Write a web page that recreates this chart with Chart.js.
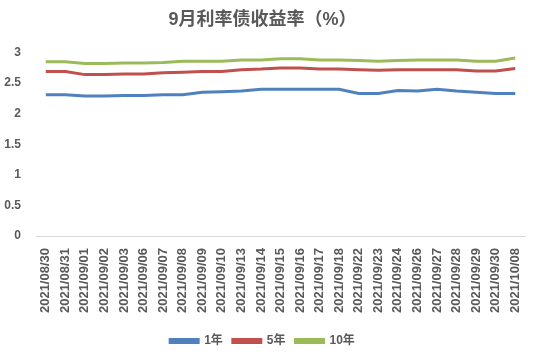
<!DOCTYPE html>
<html>
<head>
<meta charset="utf-8">
<script src="https://cdn.jsdelivr.net/npm/chart.js@4/dist/chart.umd.min.js"></script>
<style>
    html, body { margin: 0; padding: 0; background: #fff; }
    #wrap { width: 539px; height: 363px; }
</style>
</head>
<body>
<div id="wrap"><canvas id="yield-chart" width="539" height="363"></canvas></div>
<script>
// dates on the x axis
const dates = ['2021/08/30', '2021/08/31', '2021/09/01', '2021/09/02', '2021/09/03', '2021/09/06',
    '2021/09/07', '2021/09/08', '2021/09/09', '2021/09/10', '2021/09/13', '2021/09/14',
    '2021/09/15', '2021/09/16', '2021/09/17', '2021/09/18', '2021/09/22', '2021/09/23',
    '2021/09/24', '2021/09/26', '2021/09/27', '2021/09/28', '2021/09/29', '2021/09/30', '2021/10/08'];

// yields (%)
const y1 = [2.31, 2.31, 2.29, 2.29, 2.30, 2.30, 2.31, 2.31, 2.35, 2.36, 2.37, 2.40, 2.40,
    2.40, 2.40, 2.40, 2.33, 2.33, 2.38, 2.37, 2.40, 2.37, 2.35, 2.33, 2.33];
const y5 = [2.69, 2.69, 2.64, 2.64, 2.65, 2.65, 2.67, 2.68, 2.69, 2.69, 2.72, 2.73, 2.75,
    2.75, 2.73, 2.73, 2.72, 2.71, 2.72, 2.72, 2.72, 2.72, 2.70, 2.70, 2.74];
const y10 = [2.85, 2.85, 2.82, 2.82, 2.83, 2.83, 2.84, 2.86, 2.86, 2.86, 2.88, 2.88, 2.90,
    2.90, 2.88, 2.88, 2.87, 2.86, 2.87, 2.88, 2.88, 2.88, 2.86, 2.86, 2.91];

const seriesNames = ['1年', '5年', '10年'];
const yTicks = [0, 0.5, 1, 1.5, 2, 2.5, 3];

const fontFamily = '"Liberation Sans", "Noto Sans CJK SC", sans-serif';
const textColor = '#595959';

function makeSet(label, data, color) {
    return {
        label: label,
        data: data,
        borderColor: color,
        backgroundColor: color,
        borderWidth: 3,
        pointRadius: 0,
        tension: 0
    };
}

const ctx = document.getElementById('yield-chart').getContext('2d');
new Chart(ctx, {
    type: 'line',
    data: {
        labels: dates,
        datasets: [
            makeSet(seriesNames[0], y1, '#4F81BD'),
            makeSet(seriesNames[1], y5, '#C0504D'),
            makeSet(seriesNames[2], y10, '#9BBB59')
        ]
    },
    options: {
        responsive: false,
        animation: false,
        layout: { padding: { left: 0, right: 14, top: 6, bottom: 6 } },
        scales: {
            x: {
                offset: true,
                grid: { display: false },
                border: { color: '#d9d9d9' },
                afterFit: function(axis) {
                    axis.height = 89;
                },
                ticks: {
                    minRotation: 90,
                    maxRotation: 90,
                    autoSkip: false,
                    padding: 4,
                    color: textColor,
                    font: { family: fontFamily, size: 13, weight: 'bold' }
                }
            },
            y: {
                min: 0,
                max: 3,
                afterBuildTicks: function(axis) {
                    axis.ticks = yTicks.map(v => ({ value: v }));
                },
                afterFit: function(axis) {
                    axis.width = 36;
                },
                grid: { display: false },
                border: { display: false },
                ticks: {
                    padding: 7,
                    color: textColor,
                    font: { family: fontFamily, size: 12, weight: 'bold' },
                    callback: function(value) {
                        return String(value);
                    }
                }
            }
        },
        plugins: {
            title: {
                display: true,
                text: '9月利率债收益率（%）',
                color: textColor,
                font: { family: fontFamily, size: 18, weight: 'bold' },
                padding: { top: 3, bottom: 22 }
            },
            legend: {
                position: 'bottom',
                labels: {
                    boxWidth: 28,
                    boxHeight: 3,
                    padding: 10,
                    color: textColor,
                    font: { family: fontFamily, size: 12, weight: 'bold' }
                }
            },
            tooltip: { enabled: false }
        }
    }
});
</script>
</body>
</html>
